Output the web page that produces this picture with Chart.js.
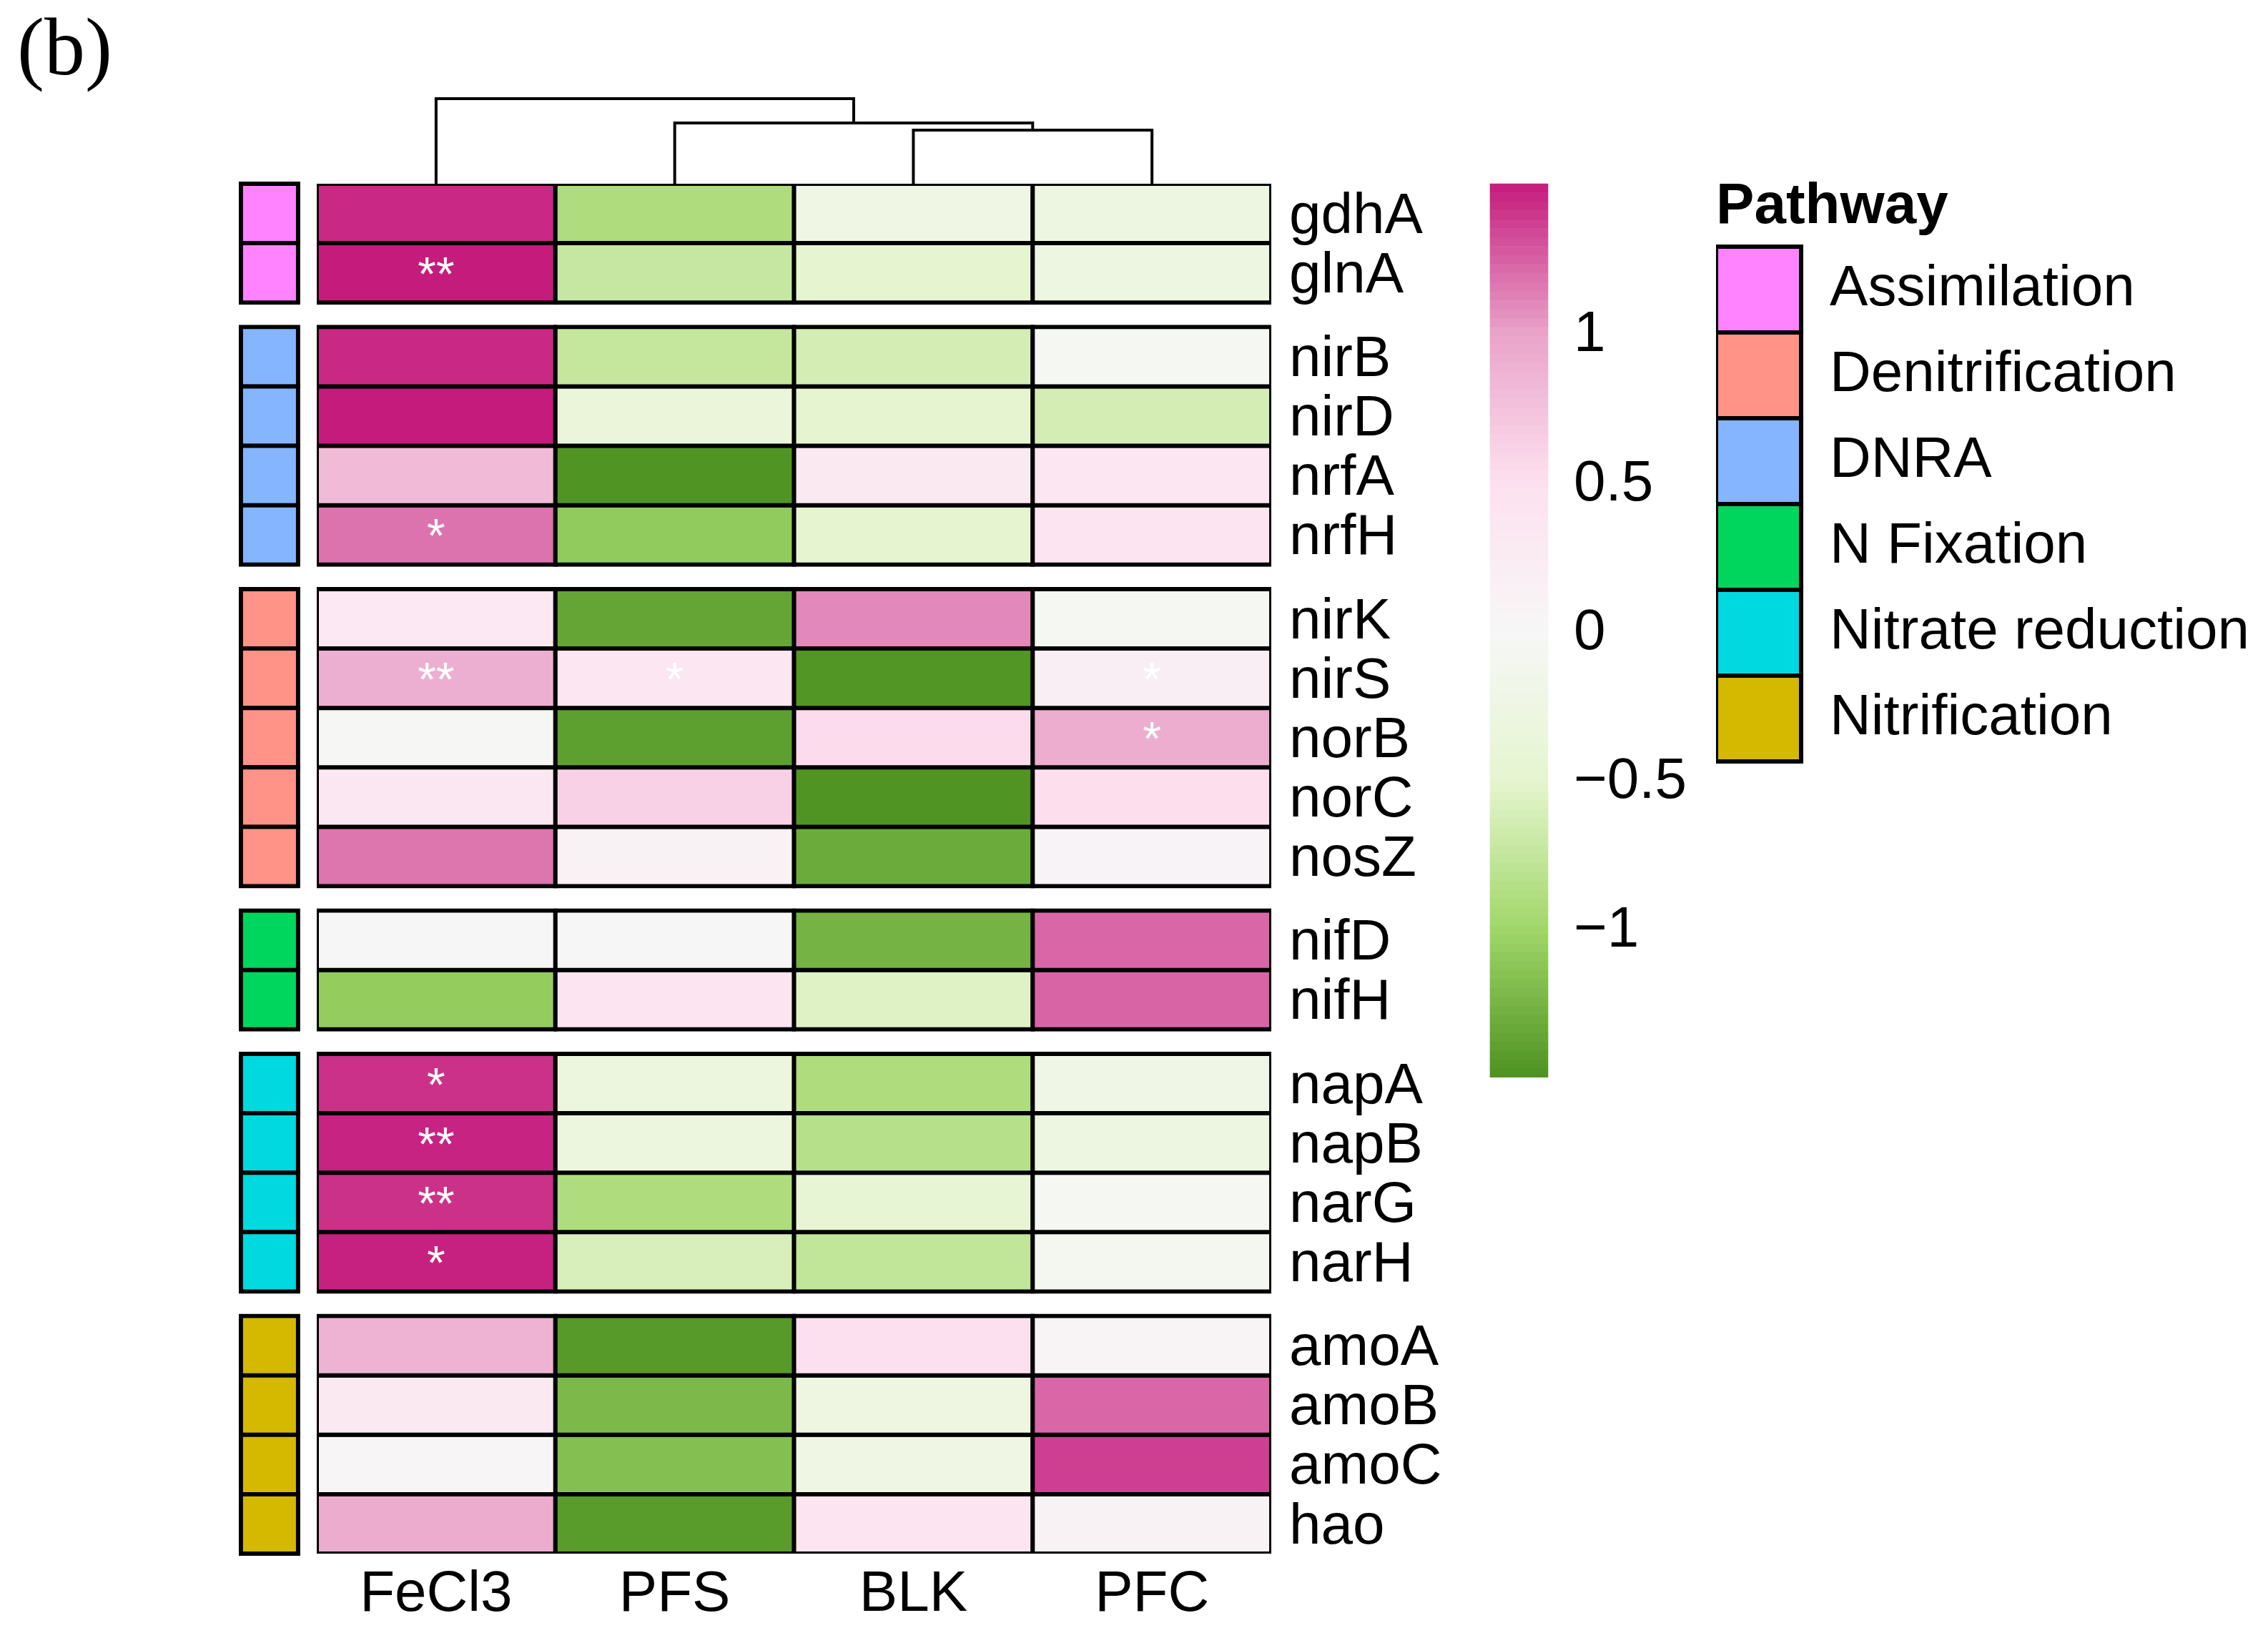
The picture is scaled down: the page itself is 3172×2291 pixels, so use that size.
<!DOCTYPE html>
<html>
<head>
<meta charset="utf-8">
<title>Nitrogen cycle genes heatmap</title>
<script src="https://cdn.jsdelivr.net/npm/chart.js@4.4.1/dist/chart.umd.min.js"></script>
<style>
  html, body { margin: 0; padding: 0; background: #fff; }
  #wrap { width: 3172px; height: 2291px; position: relative; }
</style>
</head>
<body>
<div id="wrap"><canvas id="chart"></canvas></div>
<script>
// ------------------- DATA -------------------
const columns = ["FeCl3", "PFS", "BLK", "PFC"];

const genes = ["gdhA", "glnA",
  "nirB", "nirD", "nrfA", "nrfH",
  "nirK", "nirS", "norB", "norC", "nosZ",
  "nifD", "nifH",
  "napA", "napB", "narG", "narH",
  "amoA", "amoB", "amoC", "hao"];

const genePathway = ["Assimilation", "Assimilation",
  "DNRA", "DNRA", "DNRA", "DNRA",
  "Denitrification", "Denitrification", "Denitrification", "Denitrification", "Denitrification",
  "N Fixation", "N Fixation",
  "Nitrate reduction", "Nitrate reduction", "Nitrate reduction", "Nitrate reduction",
  "Nitrification", "Nitrification", "Nitrification", "Nitrification"];

const pathways = ["Assimilation", "Denitrification", "DNRA", "N Fixation", "Nitrate reduction", "Nitrification"];
const pathwayColors = ["#FF83FF", "#FF9388", "#85B5FF", "#00D65E", "#00D9E0", "#D4B900"];

// row z-scores, one array per sample (same order as genes)
const fecl3 = [1.45, 1.5, 1.45, 1.5, 0.8, 1.18, 0.33, 0.9, -0.02, 0.35, 1.17, 0.02, -1.08, 1.42, 1.47, 1.42, 1.48, 0.88, 0.3, 0.05, 0.93];
const pfs   = [-0.9, -0.73, -0.75, -0.38, -1.48, -1.09, -1.36, 0.37, -1.4, 0.62, 0.1, 0.02, 0.4, -0.32, -0.32, -0.9, -0.6, -1.44, -1.22, -1.17, -1.43];
const blk   = [-0.25, -0.5, -0.63, -0.5, 0.3, -0.5, 1.1, -1.47, 0.54, -1.48, -1.32, -1.26, -0.55, -0.9, -0.85, -0.45, -0.77, 0.5, -0.27, -0.25, 0.4];
const pfc   = [-0.3, -0.28, -0.05, -0.63, 0.38, 0.4, -0.07, 0.2, 0.92, 0.52, 0.08, 1.22, 1.23, -0.22, -0.3, -0.05, -0.1, 0.06, 1.22, 1.37, 0.1];

// significance marks per sample
const fecl3Sig = ["", "**", "", "", "", "*", "", "**", "", "", "", "", "", "*", "**", "**", "*", "", "", "", ""];
const pfsSig   = ["", "", "", "", "", "", "", "*", "", "", "", "", "", "", "", "", "", "", "", "", ""];
const blkSig   = ["", "", "", "", "", "", "", "", "", "", "", "", "", "", "", "", "", "", "", "", ""];
const pfcSig   = ["", "", "", "", "", "", "", "*", "*", "", "", "", "", "", "", "", "", "", "", "", ""];

// column dendrogram: [left node, right node, height]; leaves are 0..3, merges become 4, 5, 6
const dendroMerges = [[2, 3, 0.63], [1, 4, 0.714], [0, 5, 1]];

// colour key
const colorTicks = [-1, -0.5, 0, 0.5, 1];
const colorLimit = 1.5;
const colorBins = 100;
const piygStops = ["#4D9221", "#A1D76A", "#E6F5D0", "#F7F7F7", "#FDE0EF", "#E9A3C9", "#C51B7D"];

// ------------------- LAYOUT HELPERS -------------------
const GROUP_GAP = 0.41;   // white space between pathway blocks, in rows
const ANNOT_X = -0.698;   // pathway strip, in column units
const KEY_X = 4.538;      // colour key, in column units

const rowTop = [];
let gapOffset = 0;
genes.forEach((g, i) => {
  if (i > 0 && genePathway[i] !== genePathway[i - 1]) gapOffset += GROUP_GAP;
  rowTop.push(i + gapOffset);
});
const rowMid = rowTop.map(t => t + 0.5);
const totalRows = rowTop[rowTop.length - 1] + 1;

function hexToRgb(h) {
  const n = parseInt(h.slice(1), 16);
  return [(n >> 16) & 255, (n >> 8) & 255, n & 255];
}

function piyg(v) {
  const c = Math.max(-colorLimit, Math.min(colorLimit, v));
  const t = (c + colorLimit) / (2 * colorLimit) * (piygStops.length - 1);
  const i = Math.min(Math.floor(t), piygStops.length - 2);
  const f = t - i;
  const a = hexToRgb(piygStops[i]);
  const b = hexToRgb(piygStops[i + 1]);
  const m = a.map((x, k) => Math.round(x + (b[k] - x) * f));
  return `rgb(${m[0]},${m[1]},${m[2]})`;
}

const sampleValues = [fecl3, pfs, blk, pfc];
const sampleSig = [fecl3Sig, pfsSig, blkSig, pfcSig];

// ------------------- DATASETS -------------------
const cellStyle = {
  borderColor: "#000",
  borderWidth: 6,
  inflateAmount: 3,
  borderSkipped: false,
  grouped: false
};

const heatSets = genes.map((g, r) => ({
  type: "bar",
  label: g,
  data: columns.map(() => [rowTop[r], rowTop[r] + 1]),
  backgroundColor: sampleValues.map(col => piyg(col[r])),
  barPercentage: 1,
  categoryPercentage: 1,
  xAxisID: "x",
  yAxisID: "y",
  ...cellStyle
}));

const annotSet = {
  type: "bar",
  label: "Pathway",
  data: genes.map((g, r) => ({ x: ANNOT_X, y: [rowTop[r], rowTop[r] + 1] })),
  backgroundColor: genePathway.map(p => pathwayColors[pathways.indexOf(p)]),
  barThickness: 80,
  xAxisID: "xa",
  yAxisID: "y",
  clip: false,
  ...cellStyle
};

const keyEdges = [];
for (let i = 0; i <= colorBins; i++) keyEdges.push(-colorLimit + i * 2 * colorLimit / colorBins);
const keySet = {
  type: "bar",
  label: "key",
  data: keyEdges.slice(0, -1).map((lo, i) => ({ x: KEY_X, y: [lo, keyEdges[i + 1]] })),
  backgroundColor: keyEdges.slice(0, -1).map((lo, i) => piyg((lo + keyEdges[i + 1]) / 2)),
  barThickness: 81,
  borderWidth: 0,
  grouped: false,
  xAxisID: "xa",
  yAxisID: "yc",
  clip: false
};

// dendrogram links, one line per merge
const nodeX = [0, 1, 2, 3];
const nodeH = [0, 0, 0, 0];
const dendroSets = [];
dendroMerges.forEach(([a, b, h]) => {
  dendroSets.push({
    type: "line",
    label: "tree",
    data: [
      { x: nodeX[a], y: nodeH[a] },
      { x: nodeX[a], y: h },
      { x: nodeX[b], y: h },
      { x: nodeX[b], y: nodeH[b] }
    ],
    borderColor: "#000",
    borderWidth: 4,
    pointRadius: 0,
    fill: false,
    tension: 0,
    clip: false,
    xAxisID: "xa",
    yAxisID: "yd"
  });
  nodeX.push((nodeX[a] + nodeX[b]) / 2);
  nodeH.push(h);
});

// ------------------- SIGNIFICANCE STARS -------------------
const starPlugin = {
  id: "stars",
  afterDatasetsDraw(chart) {
    const { ctx } = chart;
    const x = chart.scales.x;
    const y = chart.scales.y;
    ctx.save();
    ctx.font = "66px 'Liberation Sans', Arial, sans-serif";
    ctx.fillStyle = "#fff";
    ctx.textAlign = "center";
    ctx.textBaseline = "middle";
    sampleSig.forEach((col, c) => {
      col.forEach((s, r) => {
        if (!s) return;
        ctx.fillText(s, x.getPixelForValue(c), y.getPixelForValue(rowMid[r]) + 6);
      });
    });
    ctx.restore();
  }
};

// ------------------- CHART -------------------
Chart.defaults.font.family = "'Liberation Sans', Arial, Helvetica, sans-serif";
Chart.defaults.color = "#000";

const noGrid = { display: false, drawTicks: false };
const noBorder = { display: false };

// fixed box sizes; label padding must not push the plot area
function fixWidth(w) {
  return s => { s.width = w; s.paddingTop = 0; s.paddingBottom = 0; };
}

new Chart(document.getElementById("chart"), {
  type: "bar",
  data: {
    labels: columns,
    datasets: [...heatSets, annotSet, keySet, ...dendroSets]
  },
  options: {
    responsive: true,
    maintainAspectRatio: false,
    animation: false,
    layout: { padding: { left: 24, top: 8, right: 16, bottom: 0 } },
    scales: {
      x: {
        type: "category",
        position: "bottom",
        offset: true,
        grid: noGrid,
        border: noBorder,
        ticks: { font: { size: 80 }, color: "#000", padding: 10, autoSkip: false, maxRotation: 0 },
        afterFit: s => { s.height = 118; s.paddingLeft = 0; s.paddingRight = 0; }
      },
      xa: { type: "linear", axis: "x", display: false, offset: false, min: -0.5, max: 3.5 },
      y: {
        type: "linear",
        position: "right",
        weight: 0,
        reverse: true,
        min: 0,
        max: totalRows,
        grid: noGrid,
        border: noBorder,
        ticks: { font: { size: 80 }, color: "#000", padding: 25, labelOffset: 5, autoSkip: false, callback: (v, i) => genes[i] },
        afterBuildTicks: s => { s.ticks = rowMid.map(v => ({ value: v })); },
        afterFit: fixWidth(402)
      },
      yc: {
        type: "linear",
        axis: "y",
        position: "right",
        weight: 1,
        min: -3.1,
        max: 1.5,
        grid: noGrid,
        border: noBorder,
        ticks: {
          font: { size: 80 }, color: "#000", padding: 21, labelOffset: 4, autoSkip: false,
          callback: v => (v < 0 ? "\u2212" + Math.abs(v) : String(v))
        },
        afterBuildTicks: s => { s.ticks = colorTicks.map(v => ({ value: v })); },
        afterFit: fixWidth(220)
      },
      yd: {
        type: "linear",
        axis: "y",
        position: "left",
        min: -16.1,
        max: 0,
        grid: noGrid,
        border: noBorder,
        ticks: { display: false },
        afterFit: fixWidth(419)
      }
    },
    plugins: {
      tooltip: { enabled: false },
      title: {
        display: true,
        text: "(b)",
        align: "start",
        position: "top",
        color: "#000",
        font: { family: "'Liberation Serif', 'Times New Roman', serif", size: 114, weight: "normal", lineHeight: 1 },
        padding: { top: 9, bottom: 126 }
      },
      legend: {
        position: "right",
        align: "start",
        maxWidth: 900,
        onClick: () => {},
        title: {
          display: true,
          text: "Pathway",
          position: "start",
          color: "#000",
          font: { size: 80, weight: "bold", lineHeight: 1 },
          padding: { top: 242, bottom: 15 }
        },
        labels: {
          boxWidth: 119,
          boxHeight: 120,
          padding: 0,
          color: "#000",
          font: { size: 80 },
          generateLabels: () => pathways.map((p, i) => ({
            text: p,
            fillStyle: pathwayColors[i],
            strokeStyle: "#000",
            lineWidth: 6,
            hidden: false,
            fontColor: "#000"
          }))
        }
      }
    }
  },
  plugins: [starPlugin]
});
</script>
</body>
</html>
